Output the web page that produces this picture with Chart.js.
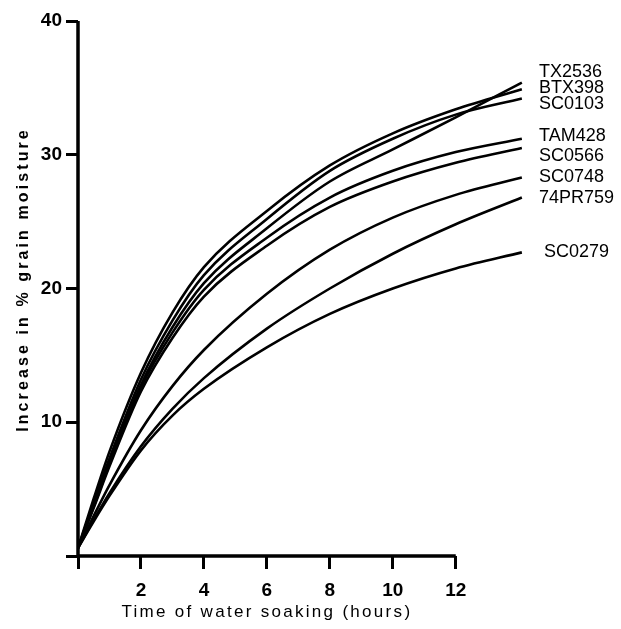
<!DOCTYPE html>
<html>
<head>
<meta charset="utf-8">
<script src="https://cdn.jsdelivr.net/npm/chart.js@4"></script>
<style>
  html, body { margin: 0; padding: 0; background: #fff; }
  #wrap { width: 621px; height: 629px; }
</style>
</head>
<body>
<div id="wrap"><canvas id="soakChart" width="621" height="629"></canvas></div>
<script>
// hours of soaking (x values shared by all curves)
const hours = [0, 0.5, 1, 2, 3, 4, 6, 8, 10, 12, 14.1];

// increase in % grain moisture, one list per line
const tx2536 = [0.6, 3.8, 7.0, 12.8, 17.1, 20.4, 24.5, 28.0, 30.4, 32.8, 35.4];
const btx398 = [0.6, 4.3, 7.8, 13.7, 18.2, 21.6, 25.8, 29.2, 31.6, 33.4, 34.9];
const sc0103 = [0.6, 4.0, 7.3, 13.2, 17.6, 21.0, 25.2, 28.8, 31.2, 33.0, 34.2];
const tam428 = [0.6, 3.7, 6.9, 12.6, 16.7, 19.9, 23.8, 26.8, 28.8, 30.2, 31.2];
const sc0566 = [0.6, 3.6, 6.7, 12.3, 16.3, 19.4, 23.2, 26.1, 28.0, 29.4, 30.5];
const sc0748 = [0.6, 3.0, 5.3, 9.4, 12.7, 15.4, 19.6, 22.9, 25.3, 27.0, 28.3];
const pr74759 = [0.6, 2.7, 4.7, 8.2, 11.0, 13.3, 17.0, 20.0, 22.6, 24.8, 26.8];
const sc0279 = [0.6, 2.6, 4.5, 7.9, 10.5, 12.5, 15.6, 18.1, 20.0, 21.5, 22.7];

const lineNames = ['TX2536', 'BTX398', 'SC0103', 'TAM428', 'SC0566', 'SC0748', '74PR759', 'SC0279'];
const lineValues = [tx2536, btx398, sc0103, tam428, sc0566, sc0748, pr74759, sc0279];
// where each name sits on the right, in % moisture units
const nameAt = [36.2, 35.0, 33.8, 31.4, 29.9, 28.3, 26.8, 22.7];

const xTicks = [0, 2, 4, 6, 8, 10, 12];
const yTicks = [0, 10, 20, 30, 40];

const datasets = lineNames.map((name, i) => ({
    label: name,
    data: hours.map((h, j) => ({ x: h, y: lineValues[i][j] })),
    borderColor: '#000',
    borderWidth: 2.6,
    pointRadius: 0,
    cubicInterpolationMode: 'monotone',
    fill: false,
}));

// axis lines, axis titles and the names next to the line ends
const drawExtras = {
    id: 'drawExtras',
    afterDraw(chart) {
        const ctx = chart.ctx;
        const xs = chart.scales.x;
        const ys = chart.scales.y;
        const area = chart.chartArea;
        ctx.save();
        ctx.strokeStyle = '#000';
        ctx.lineWidth = 3.5;
        ctx.beginPath();
        ctx.moveTo(xs.getPixelForValue(0), ys.getPixelForValue(0));
        ctx.lineTo(xs.getPixelForValue(12), ys.getPixelForValue(0));
        ctx.moveTo(xs.getPixelForValue(0), ys.getPixelForValue(40));
        ctx.lineTo(xs.getPixelForValue(0), ys.getPixelForValue(0));
        ctx.stroke();

        ctx.fillStyle = '#000';
        ctx.font = '18px "Liberation Sans", Arial, sans-serif';
        ctx.textBaseline = 'middle';
        ctx.textAlign = 'left';
        lineNames.forEach((name, i) => {
            const dx = name === 'SC0279' ? 19 : 14;
            ctx.fillText(name, area.right + dx, ys.getPixelForValue(nameAt[i]));
        });

        ctx.letterSpacing = '2.3px';
        ctx.font = '17px "Liberation Sans", Arial, sans-serif';
        ctx.textAlign = 'center';
        ctx.fillText('Time of water soaking (hours)', xs.getPixelForValue(6), 612);

        ctx.letterSpacing = '3.1px';
        ctx.font = 'bold 16px "Liberation Sans", Arial, sans-serif';
        ctx.translate(24, (area.top + area.bottom) / 2 - 9);
        ctx.rotate(-Math.PI / 2);
        ctx.fillText('Increase in % grain moisture', 0, 0);
        ctx.restore();
    }
};

const tickFont = { family: '"Liberation Sans", Arial, sans-serif', size: 19, weight: 'bold' };

new Chart(document.getElementById('soakChart'), {
    type: 'line',
    data: { datasets },
    options: {
        responsive: false,
        animation: false,
        layout: { padding: { top: 21, right: 96, left: 0, bottom: 0 } },
        plugins: { legend: { display: false }, tooltip: { enabled: false } },
        scales: {
            x: {
                type: 'linear',
                min: 0,
                max: 14.2,
                afterBuildTicks: (s) => { s.ticks = xTicks.map(v => ({ value: v })); },
                afterFit: (s) => { s.height = 73; },
                border: { display: false },
                grid: { drawOnChartArea: false, color: '#000', lineWidth: 3, tickLength: 13 },
                ticks: {
                    color: '#000',
                    font: tickFont,
                    padding: 10,
                    maxRotation: 0,
                    callback: (v) => v === 0 ? '' : String(v),
                },
            },
            y: {
                min: 0,
                max: 40,
                afterBuildTicks: (s) => { s.ticks = yTicks.map(v => ({ value: v })); },
                afterFit: (s) => { s.width = 78; },
                border: { display: false },
                grid: { drawOnChartArea: false, color: '#000', lineWidth: 3, tickLength: 12 },
                ticks: {
                    color: '#000',
                    font: tickFont,
                    padding: 4,
                    callback: (v) => v === 0 ? '' : String(v),
                },
            },
        },
    },
    plugins: [drawExtras],
});
</script>
</body>
</html>
